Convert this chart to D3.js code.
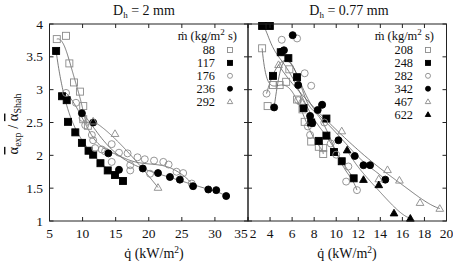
<!DOCTYPE html>
<html>
<head>
<meta charset="utf-8">
<script src="https://cdn.jsdelivr.net/npm/d3@7"></script>
<style>
  body { margin: 0; background: #fff; }
  svg { display: block; }
  svg text { font-family: 'Liberation Serif', 'Times New Roman', Times, serif; fill: #111; }
</style>
</head>
<body>
<svg id="chart" width="453" height="264"></svg>
<script>
// ---- data: [q (kW/m2), alpha_exp / alpha_Shah] ----
// left panel, Dh = 2 mm
const s88  = [[6.1,3.77],[7.5,3.82],[8.0,3.40],[8.7,3.11],[9.6,2.97],[10.1,2.75],[10.1,2.55],[10.8,2.45]];
const s117 = [[6.0,3.59],[6.9,2.90],[7.6,2.84],[7.8,2.51],[8.9,2.35],[9.9,2.19],[10.9,2.07],[11.6,2.01],[12.7,1.88],[13.8,1.77],[14.9,1.70],[16.1,1.61]];
const s176 = [[7.5,2.95],[9.0,2.80],[10.0,2.57],[10.4,2.46],[11.4,2.31],[11.6,2.23],[11.9,2.11],[12.9,2.09],[13.4,2.06],[14.4,2.17],[14.4,1.90],[15.5,2.04],[16.8,2.03],[17.2,1.85],[17.2,1.77],[18.3,1.97],[19.4,1.94],[20.2,1.72],[20.8,1.92],[22.2,1.90],[23.0,1.86],[24.2,1.75],[25.2,1.73],[26.5,1.57]];
const s236 = [[9.9,2.64],[11.6,2.50],[13.9,2.03],[15.5,1.78],[19.1,1.80],[21.4,1.73],[23.2,1.67],[24.7,1.63],[26.7,1.53],[29.0,1.48],[30.2,1.47],[31.7,1.38]];
const s292 = [[11.6,2.52],[14.9,2.33],[21.4,1.51]];

// right panel, Dh = 0.77 mm
const s208 = [[3.28,3.63],[3.78,2.75],[4.27,3.07],[4.87,3.07],[5.46,3.12],[5.75,3.31],[6.45,2.85],[6.94,2.70],[7.14,2.51],[7.73,2.21],[8.42,2.13],[8.82,2.11],[8.82,2.02]];
const s248 = [[3.28,3.97],[3.98,3.97],[4.27,3.21],[4.97,3.57],[5.66,3.48],[6.45,3.19],[7.04,2.72],[7.73,2.50],[8.42,2.22],[9.11,2.56],[9.11,2.30],[9.8,2.05],[10.5,1.91],[11.58,1.65]];
const s282 = [[3.68,2.94],[5.06,3.76],[6.45,3.78],[6.55,2.84],[7.14,3.25],[7.43,2.44],[7.63,2.31],[7.73,3.06],[8.72,2.77],[8.92,2.50],[9.5,2.18],[10.0,2.01],[10.9,1.60],[11.1,1.83],[11.88,1.47]];
const s342 = [[4.37,2.73],[5.06,3.58],[5.26,3.60],[6.05,3.83],[6.55,3.07],[7.63,2.60],[7.83,2.49],[8.32,2.69],[8.72,2.77],[10.2,2.23],[11.68,1.99],[12.47,1.85],[13.07,1.85],[14.45,1.63]];
const s467 = [[4.77,3.38],[6.84,2.82],[10.5,2.37],[13.86,1.64],[14.65,1.78],[15.73,1.62],[17.6,1.28],[19.39,1.19]];
const s622 = [[10.99,2.08],[12.47,1.63],[13.86,1.55],[15.24,1.12],[16.72,1.04]];

const leftLabels  = ['88', '117', '176', '236', '292'];
const rightLabels = ['208', '248', '282', '342', '467', '622'];
const leftTicksX  = [5, 10, 15, 20, 25, 30, 35];
const rightTicksX = [2, 4, 6, 8, 10, 12, 14, 16, 18, 20];
const ticksY = [1, 1.5, 2, 2.5, 3, 3.5, 4];

const svg = d3.select('#chart');
const yTop = 24, yBot = 221;
const y = d3.scaleLinear().domain([1, 4]).range([yBot, yTop]);
const xL = d3.scaleLinear().domain([5, 35]).range([49.5, 248]);
const xR = d3.scaleLinear().domain([2, 20]).range([248, 446.5]);

const GREY = '#8a8a8a';

// gnuplot-like "smooth bezier": all sorted points used as control points
function bezier(pts) {
  const p = pts.slice().sort((a, b) => a[0] - b[0]);
  const n = p.length - 1;
  const binom = [1];
  for (let i = 1; i <= n; i++) binom[i] = binom[i - 1] * (n - i + 1) / i;
  const out = [];
  for (let k = 0; k <= 120; k++) {
    const t = k / 120;
    let bx = 0, by = 0;
    for (let i = 0; i <= n; i++) {
      const b = binom[i] * Math.pow(t, i) * Math.pow(1 - t, n - i);
      bx += b * p[i][0]; by += b * p[i][1];
    }
    out.push([bx, by]);
  }
  return out;
}

function marker(g, type, cx, cy, s) {
  const h = s / 2;
  const filled = type.endsWith('F');
  const fill = filled ? '#000' : 'none';
  const stroke = filled ? '#000' : GREY;
  if (type[0] === 'S') {
    g.append('rect').attr('x', cx - h).attr('y', cy - h).attr('width', s).attr('height', s)
      .attr('fill', fill).attr('stroke', stroke).attr('stroke-width', 0.9);
  } else if (type[0] === 'C') {
    g.append('circle').attr('cx', cx).attr('cy', cy).attr('r', h)
      .attr('fill', fill).attr('stroke', stroke).attr('stroke-width', 0.9);
  } else {
    g.append('path').attr('d', `M${cx},${cy - h * 1.1}L${cx + h * 1.1},${cy + h * 0.8}L${cx - h * 1.1},${cy + h * 0.8}Z`)
      .attr('fill', fill).attr('stroke', stroke).attr('stroke-width', 0.9);
  }
}

function panel(x, series, types, labels, ticksX, legend) {
  const g = svg.append('g');
  const line = d3.line().x(d => x(d[0])).y(d => y(d[1]));
  series.forEach(s => {
    g.append('path').attr('d', line(bezier(s))).attr('fill', 'none')
      .attr('stroke', '#5a5a5a').attr('stroke-width', 0.8);
  });
  series.forEach((s, i) => {
    s.forEach(d => marker(g, types[i], x(d[0]), y(d[1]), 7));
  });

  const [x0, x1] = x.range();
  // frame
  g.append('rect').attr('x', x0).attr('y', yTop).attr('width', x1 - x0).attr('height', yBot - yTop)
    .attr('fill', 'none').attr('stroke', '#222').attr('stroke-width', 1);
  // inward ticks on all four sides
  ticksX.forEach(t => {
    g.append('line').attr('x1', x(t)).attr('x2', x(t)).attr('y1', yBot).attr('y2', yBot - 4).attr('stroke', '#222');
    g.append('line').attr('x1', x(t)).attr('x2', x(t)).attr('y1', yTop).attr('y2', yTop + 4).attr('stroke', '#222');
  });
  ticksY.forEach(t => {
    g.append('line').attr('x1', x0).attr('x2', x0 + 4).attr('y1', y(t)).attr('y2', y(t)).attr('stroke', '#222');
    g.append('line').attr('x1', x1).attr('x2', x1 - 4).attr('y1', y(t)).attr('y2', y(t)).attr('stroke', '#222');
  });
  // the shared border: nudge "35" and "2" apart so they don't collide
  g.selectAll('text.tx').data(ticksX).join('text').attr('class', 'tx')
    .attr('x', d => x(d) + (d === ticksX[ticksX.length - 1] && x === xL ? -7 : d === ticksX[0] && x === xR ? 5 : 0))
    .attr('y', 238).attr('text-anchor', 'middle')
    .attr('font-size', 13.5).text(d => d);

  // legend
  const lg = g.append('g');
  const hdr = lg.append('text').attr('x', legend.hx).attr('y', 40).attr('text-anchor', 'end').attr('font-size', 12.5);
  hdr.append('tspan').text('ṁ  (kg/m');
  hdr.append('tspan').attr('dy', -5).attr('font-size', 9).text('2');
  hdr.append('tspan').attr('dy', 5).text(' s)');
  labels.forEach((lab, i) => {
    const cy = 50 + i * 12.9;
    lg.append('text').attr('x', legend.tx).attr('y', cy + 4.3).attr('text-anchor', 'end')
      .attr('font-size', 12.3).text(lab);
    marker(lg, types[i], legend.mx, cy, 5);
  });
  return g;
}

panel(xL, [s88, s117, s176, s236, s292], ['S', 'SF', 'C', 'CF', 'T'], leftLabels, leftTicksX,
  { hx: 237, tx: 215, mx: 230 });
panel(xR, [s208, s248, s282, s342, s467, s622], ['S', 'SF', 'C', 'CF', 'T', 'TF'], rightLabels, rightTicksX,
  { hx: 434, tx: 413, mx: 428 });

// y tick labels (left panel only)
svg.selectAll('text.ty').data(ticksY).join('text').attr('class', 'ty')
  .attr('x', 43).attr('y', d => y(d) + 4.5).attr('text-anchor', 'end')
  .attr('font-size', 13.5).text(d => d);

// titles
function title(cx, value) {
  const t = svg.append('text').attr('x', cx).attr('y', 15).attr('text-anchor', 'middle').attr('font-size', 14);
  t.append('tspan').text('D');
  t.append('tspan').attr('dy', 3).attr('font-size', 9).text('h');
  t.append('tspan').attr('dy', -3).text(' = ' + value);
}
title(144, '2 mm');
title(349, '0.77 mm');

// x axis titles
function xTitle(cx) {
  const t = svg.append('text').attr('x', cx).attr('y', 258).attr('text-anchor', 'middle').attr('font-size', 14);
  t.append('tspan').text('q̇ (kW/m');
  t.append('tspan').attr('dy', -5).attr('font-size', 9.5).text('2');
  t.append('tspan').attr('dy', 5).text(')');
}
xTitle(154);
xTitle(347);

// y axis title
const yt = svg.append('text').attr('transform', 'translate(18,124) rotate(-90)')
  .attr('text-anchor', 'middle').attr('font-size', 14.5);
yt.append('tspan').attr('text-decoration', 'overline').text('α');
yt.append('tspan').attr('dy', 3).attr('font-size', 10).text('exp');
yt.append('tspan').attr('dy', -3).text(' / ');
yt.append('tspan').attr('text-decoration', 'overline').text('α');
yt.append('tspan').attr('dy', 3).attr('font-size', 10).text('Shah');
</script>
</body>
</html>
